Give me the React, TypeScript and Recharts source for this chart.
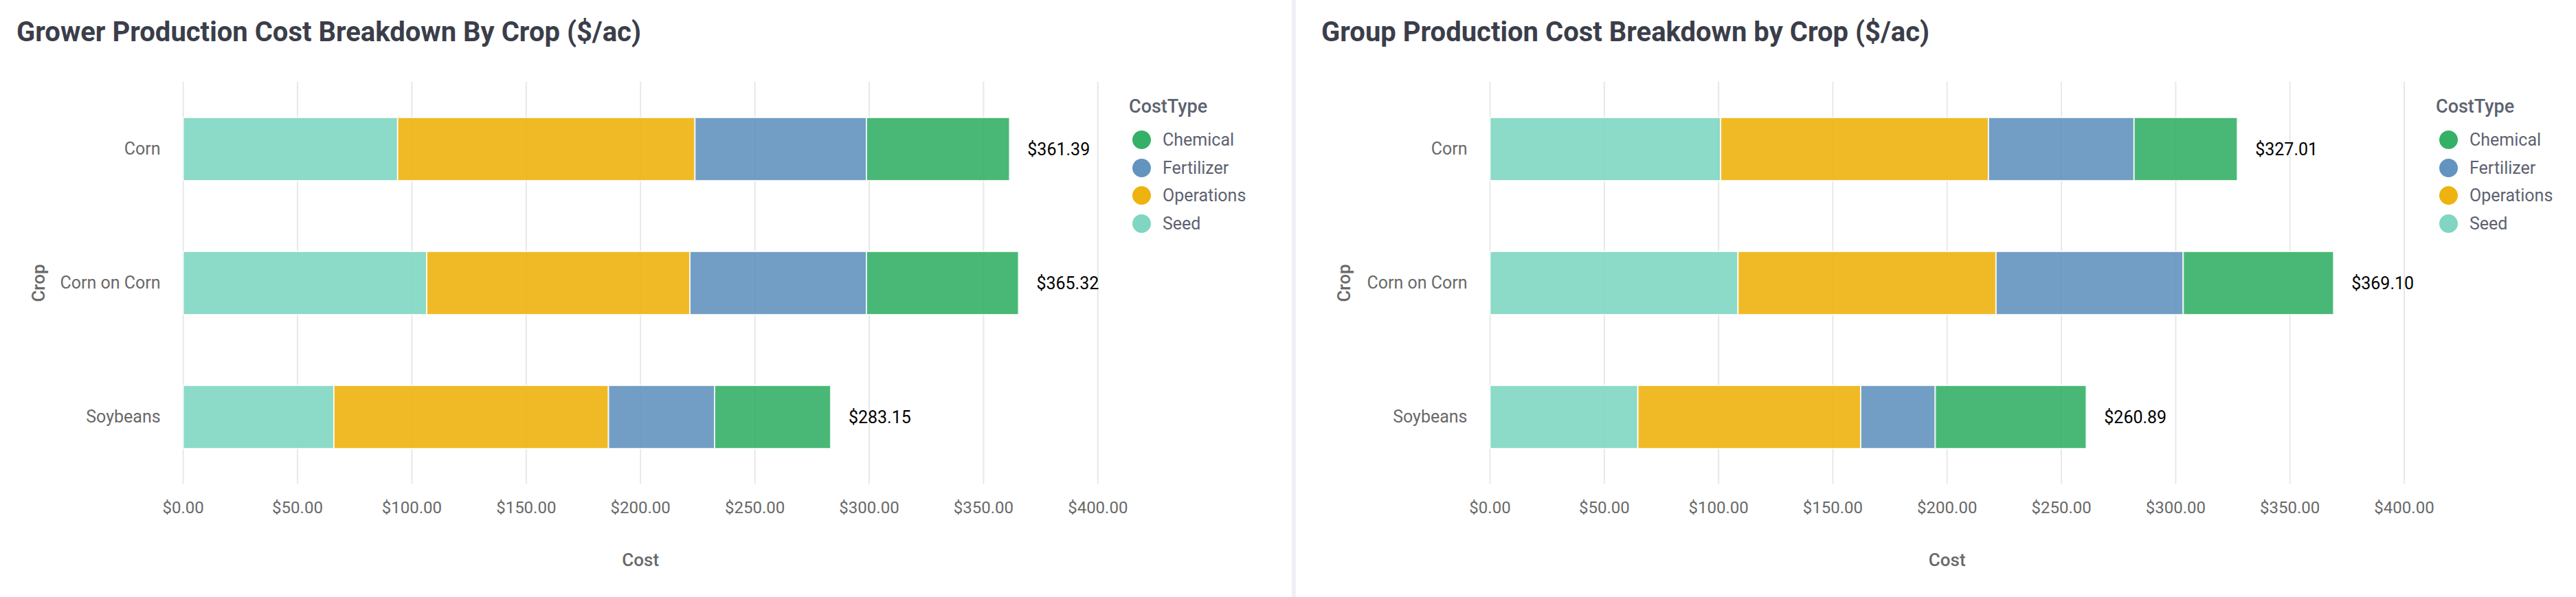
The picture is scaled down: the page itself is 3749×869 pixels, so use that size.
import React from "react";
import {
  BarChart,
  Bar,
  XAxis,
  YAxis,
  CartesianGrid,
  LabelList,
} from "recharts";

const crops = ["Corn", "Corn on Corn", "Soybeans"];
const costTypes = ["Chemical", "Fertilizer", "Operations", "Seed"];
const xTicks = [0, 50, 100, 150, 200, 250, 300, 350, 400];

// grower ($/ac)
const growerSeed = [93.8, 106.5, 65.9];
const growerOperations = [130.0, 115.1, 120.1];
const growerFertilizer = [75.0, 77.2, 46.4];
const growerChemical = [62.59, 66.52, 50.75];

// group ($/ac)
const groupSeed = [100.9, 108.5, 64.7];
const groupOperations = [117.2, 112.9, 97.5];
const groupFertilizer = [63.7, 81.9, 32.6];
const groupChemical = [45.21, 65.8, 66.09];

const colors: Record<string, string> = {
  Chemical: "#35b067",
  Fertilizer: "#6394bf",
  Operations: "#eeb310",
  Seed: "#80d6c2",
};

const FONT = "Roboto, 'Noto Sans', sans-serif";
const H = 869;
const PLOT_TOP = 119;
const PLOT_BOTTOM = 704;

const buildRows = (
  seed: number[],
  ops: number[],
  fert: number[],
  chem: number[]
) =>
  crops.map((crop, i) => ({
    crop,
    Seed: seed[i],
    Operations: ops[i],
    Fertilizer: fert[i],
    Chemical: chem[i],
    total: seed[i] + ops[i] + fert[i] + chem[i],
  }));

const money = (v: number) => `$${v.toFixed(2)}`;

interface PanelProps {
  title: string;
  rows: ReturnType<typeof buildRows>;
  width: number;
  plotLeft: number;
  plotRight: number;
  titleLeft: number;
  cropX: number;
  legendLeft: number;
}

const Panel: React.FC<PanelProps> = ({
  title,
  rows,
  width,
  plotLeft,
  plotRight,
  titleLeft,
  cropX,
  legendLeft,
}) => {
  const XTick = (p: any) => (
    <text
      x={p.x}
      y={p.y + 35}
      textAnchor="middle"
      dominantBaseline="central"
      fontFamily={FONT}
      fontSize={24}
      fontWeight={400}
      fill="#696969"
    >
      {money(p.payload.value)}
    </text>
  );
  const YTick = (p: any) => (
    <text
      x={p.x - 33}
      y={p.y}
      textAnchor="end"
      dominantBaseline="central"
      fontFamily={FONT}
      fontSize={25}
      fontWeight={400}
      fill="#696969"
    >
      {p.payload.value}
    </text>
  );
  const TotalLabel = (p: any) => {
    const row = rows[p.index];
    if (!row) return null;
    return (
      <text
        x={p.x + p.width + 26}
        y={p.y + p.height / 2}
        textAnchor="start"
        dominantBaseline="central"
        fontFamily={FONT}
        fontSize={25}
        fill="#000"
      >
        {money(row.total)}
      </text>
    );
  };

  const order = ["Seed", "Operations", "Fertilizer", "Chemical"];

  return (
    <div style={{ position: "relative", width, height: H, background: "#fff" }}>
      <div
        style={{
          position: "absolute",
          left: titleLeft,
          top: 27,
          fontFamily: FONT,
          fontSize: 40,
          lineHeight: "40px",
          fontWeight: 700,
          color: "#3b3e4a",
          whiteSpace: "nowrap",
        }}
      >
        {title}
      </div>
      <BarChart
        width={width}
        height={H}
        data={rows}
        layout="vertical"
        margin={{ top: PLOT_TOP, right: width - plotRight, bottom: H - PLOT_BOTTOM - 100, left: 0 }}
        style={{ position: "absolute", left: 0, top: 0 }}
      >
        <CartesianGrid horizontal={false} stroke="#e8e8e8" strokeWidth={2} />
        <XAxis
          type="number"
          domain={[0, 400]}
          ticks={xTicks}
          height={100}
          axisLine={false}
          tickLine={false}
          tickSize={0}
          tickMargin={0}
          tick={XTick}
          interval={0}
        />
        <YAxis
          type="category"
          dataKey="crop"
          width={plotLeft}
          axisLine={false}
          tickLine={false}
          tickSize={0}
          tickMargin={0}
          tick={YTick}
          interval={0}
        />
        {order.map((k) => (
          <Bar
            key={k}
            dataKey={k}
            stackId="a"
            barSize={92}
            fill={colors[k]}
            fillOpacity={0.9}
            stroke="#fff"
            strokeWidth={2}
            strokeOpacity={0.8}
            isAnimationActive={false}
          >
            {k === "Chemical" && <LabelList dataKey="total" content={TotalLabel} />}
          </Bar>
        ))}
      </BarChart>
      <div
        style={{
          position: "absolute",
          left: cropX,
          top: (PLOT_TOP + PLOT_BOTTOM) / 2,
          transform: "translate(-50%, -50%) rotate(-90deg)",
          fontFamily: FONT,
          fontSize: 26,
          fontWeight: 500,
          color: "#696969",
          whiteSpace: "nowrap",
        }}
      >
        Crop
      </div>
      <div
        style={{
          position: "absolute",
          left: (plotLeft + plotRight) / 2,
          top: 815,
          transform: "translate(-50%, -50%)",
          fontFamily: FONT,
          fontSize: 26,
          fontWeight: 500,
          color: "#696969",
        }}
      >
        Cost
      </div>
      <div
        style={{
          position: "absolute",
          left: legendLeft,
          top: 139,
          fontFamily: FONT,
          color: "#5d6270",
        }}
      >
        <div style={{ fontSize: 27, fontWeight: 500, lineHeight: "32px", marginBottom: 12 }}>
          CostType
        </div>
        {costTypes.map((c) => (
          <div
            key={c}
            style={{ display: "flex", alignItems: "center", height: 40.7, fontSize: 25, fontWeight: 400 }}
          >
            <span
              style={{
                display: "inline-block",
                width: 27,
                height: 27,
                borderRadius: "50%",
                background: colors[c],
                marginLeft: 5,
                marginRight: 17,
              }}
            />
            {c}
          </div>
        ))}
      </div>
    </div>
  );
};

export default function App() {
  const growerRows = buildRows(growerSeed, growerOperations, growerFertilizer, growerChemical);
  const groupRows = buildRows(groupSeed, groupOperations, groupFertilizer, groupChemical);
  return (
    <div style={{ position: "relative", width: 3749, height: H, display: "flex", background: "#fff" }}>
      <style>{`body{margin:0}`}</style>
      <Panel
        title="Grower Production Cost Breakdown By Crop ($/ac)"
        rows={growerRows}
        width={1880}
        plotLeft={266.6}
        plotRight={1597.8}
        titleLeft={24}
        cropX={56}
        legendLeft={1643}
      />
      <div style={{ width: 6, height: H, background: "#eff0f5" }} />
      <Panel
        title="Group Production Cost Breakdown by Crop ($/ac)"
        rows={groupRows}
        width={1863}
        plotLeft={282.5}
        plotRight={1613}
        titleLeft={37}
        cropX={70}
        legendLeft={1659}
      />
    </div>
  );
}
